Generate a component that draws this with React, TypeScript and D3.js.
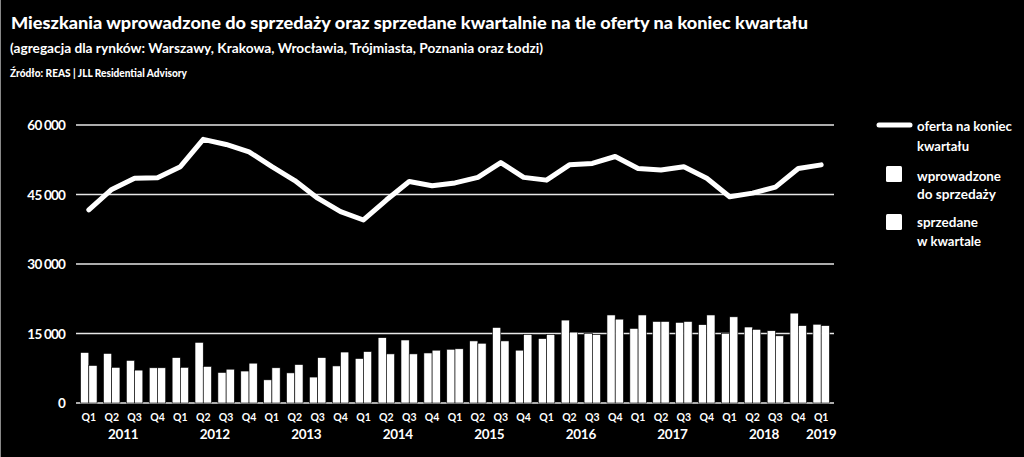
import React from "react";
import * as d3 from "d3";

const categories = [
  "2011 Q1","2011 Q2","2011 Q3","2011 Q4",
  "2012 Q1","2012 Q2","2012 Q3","2012 Q4",
  "2013 Q1","2013 Q2","2013 Q3","2013 Q4",
  "2014 Q1","2014 Q2","2014 Q3","2014 Q4",
  "2015 Q1","2015 Q2","2015 Q3","2015 Q4",
  "2016 Q1","2016 Q2","2016 Q3","2016 Q4",
  "2017 Q1","2017 Q2","2017 Q3","2017 Q4",
  "2018 Q1","2018 Q2","2018 Q3","2018 Q4",
  "2019 Q1",
];
const years = ["2011","2012","2013","2014","2015","2016","2017","2018","2019"];

const offer = [41700, 46100, 48500, 48600, 51000, 56900, 55800, 54200, 51000, 48000, 44200, 41300, 39500, 43800, 47800, 46900, 47500, 48700, 51900, 48700, 48100, 51400, 51700, 53200, 50600, 50300, 51000, 48500, 44500, 45300, 46600, 50600, 51400];
const introduced = [10900, 10700, 9200, 7600, 9800, 13100, 6600, 6900, 5000, 6500, 5600, 8000, 9600, 14100, 13600, 10800, 11600, 13400, 16300, 11400, 13900, 17900, 15000, 19000, 16100, 17600, 17400, 16900, 15000, 16400, 15600, 19400, 17000];
const sold = [8100, 7700, 7100, 7600, 7700, 7900, 7300, 8600, 7600, 8300, 9800, 11000, 11100, 10600, 10600, 11400, 11700, 12900, 13400, 14800, 14800, 15300, 14800, 18100, 19000, 17600, 17600, 19000, 18600, 15900, 14500, 16700, 16700];
const yTicks = [0, 15000, 30000, 45000, 60000];

const FONT = "Lato, 'Open Sans', sans-serif";

export default function App() {
  const W = 1024, H = 457;
  const x = d3.scaleBand<string>().domain(categories).range([76, 834]).paddingInner(0.28).paddingOuter(0.2);
  const x1 = d3.scaleBand<string>().domain(["a", "b"]).range([0, x.bandwidth()]);
  const y = d3.scaleLinear().domain([0, 60000]).range([403, 125]);
  const fmt = (v: number) => (v === 0 ? "0" : d3.format(",")(v).replace(/,/g, " "));
  const line = d3.line<number>()
    .x((_, i) => (x(categories[i]) as number) + x.bandwidth() / 2)
    .y((d) => y(d))
    .curve(d3.curveLinear);
  const cx = (c: string) => (x(c) as number) + x.bandwidth() / 2;

  return (
    <svg width={W} height={H} style={{ position: "absolute", left: 0, top: 0, background: "#000" }} fontFamily={FONT}>
      <rect x={0} y={0} width={W} height={H} fill="#000" />
      <line x1={0.5} x2={0.5} y1={0} y2={H} stroke="#888" strokeWidth={1} />
      <text x={11} y={29} fill="#fff" fontSize={16} fontWeight={900} textLength={797} lengthAdjust="spacingAndGlyphs">
        Mieszkania wprowadzone do sprzedaży oraz sprzedane kwartalnie na tle oferty na koniec kwartału
      </text>
      <text x={10} y={53} fill="#fff" fontSize={13.5} fontWeight={700} textLength={533} lengthAdjust="spacingAndGlyphs">
        (agregacja dla rynków: Warszawy, Krakowa, Wrocławia, Trójmiasta, Poznania oraz Łodzi)
      </text>
      <text x={10} y={77} fill="#fff" fontSize={10.5} fontWeight={900} textLength={177} lengthAdjust="spacingAndGlyphs">
        Źródło: REAS | JLL Residential Advisory
      </text>

      {yTicks.map((t) => (
        <g key={t}>
          <line x1={76} x2={834} y1={y(t)} y2={y(t)} stroke="#e6e6e6" strokeWidth={1.5} />
          <text x={65} y={y(t) + 5} fill="#fff" fontSize={13.5} fontWeight={700} textAnchor="end" letterSpacing={-0.8}>
            {fmt(t)}
          </text>
        </g>
      ))}

      {categories.map((c, i) => (
        <g key={c}>
          <rect x={(x(c) as number) + (x1("a") as number)} y={y(introduced[i])} width={x1.bandwidth()} height={y(0) - y(introduced[i])} fill="#fff" stroke="#000" strokeWidth={0.6} />
          <rect x={(x(c) as number) + (x1("b") as number)} y={y(sold[i])} width={x1.bandwidth()} height={y(0) - y(sold[i])} fill="#fff" stroke="#000" strokeWidth={0.6} />
          <text x={cx(c)} y={421} fill="#fff" fontSize={10.5} fontWeight={700} textAnchor="middle">
            {c.split(" ")[1]}
          </text>
        </g>
      ))}

      {years.map((yr) => {
        const qs = categories.filter((c) => c.startsWith(yr));
        const pos = qs.length >= 4 ? (cx(qs[1]) + cx(qs[2])) / 2 : cx(qs[0]);
        return (
          <text key={yr} x={pos} y={439} fill="#fff" fontSize={13.5} fontWeight={700} textAnchor="middle" letterSpacing={-0.3}>
            {yr}
          </text>
        );
      })}

      <path d={line(offer) as string} fill="none" stroke="#fff" strokeWidth={5} strokeLinejoin="round" strokeLinecap="round" />

      <g fontSize={14} fontWeight={700} fill="#fff" lengthAdjust="spacingAndGlyphs">
        <line x1={879} x2={910} y1={125} y2={125} stroke="#fff" strokeWidth={5} strokeLinecap="round" />
        <text x={917} y={131} textLength={95} lengthAdjust="spacingAndGlyphs">oferta na koniec</text>
        <text x={917} y={151} textLength={52} lengthAdjust="spacingAndGlyphs">kwartału</text>
        <rect x={886} y={166} width={16} height={16} fill="#fff" rx={1.5} />
        <text x={917} y={181} textLength={84} lengthAdjust="spacingAndGlyphs">wprowadzone</text>
        <text x={917} y={199} textLength={79} lengthAdjust="spacingAndGlyphs">do sprzedaży</text>
        <rect x={886} y={214} width={16} height={16} fill="#fff" rx={1.5} />
        <text x={917} y={227} textLength={61} lengthAdjust="spacingAndGlyphs">sprzedane</text>
        <text x={917} y={246} textLength={64} lengthAdjust="spacingAndGlyphs">w kwartale</text>
      </g>
    </svg>
  );
}
